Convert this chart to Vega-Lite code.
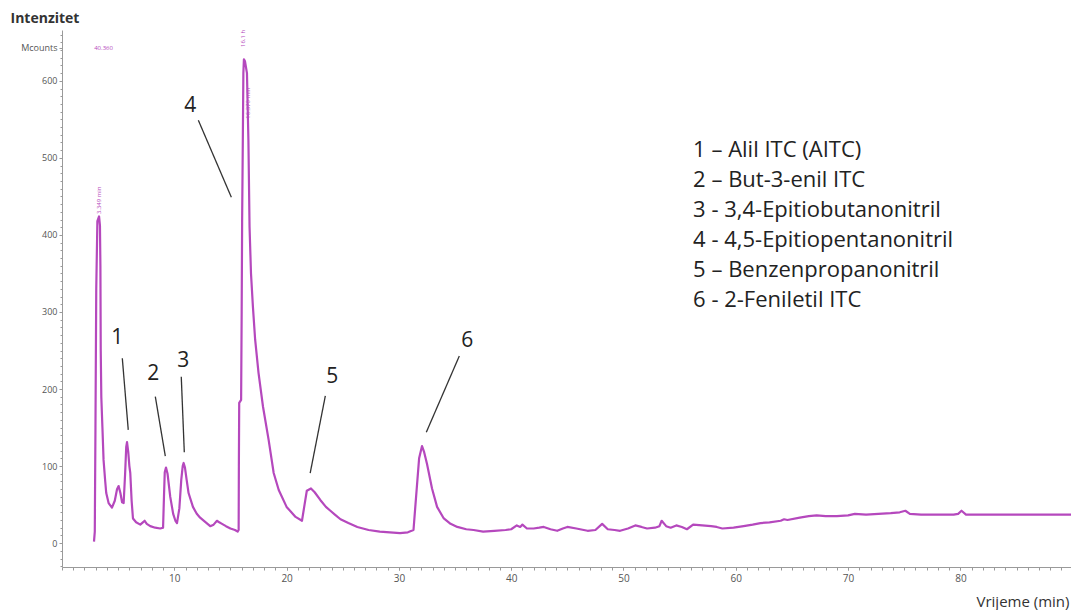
{
  "$schema": "https://vega.github.io/schema/vega-lite/v6.json",
  "width": 1009,
  "height": 537,
  "autosize": "none",
  "padding": {"left": 62, "top": 30, "right": 0, "bottom": 43},
  "background": "white",
  "config": {
    "view": {"stroke": null},
    "axis": {"grid": false, "domainColor": "#9a9a9a", "tickColor": "#9a9a9a", "labelColor": "#555555", "labelFont": "Open Sans", "labelFontSize": 9, "titleFont": "Open Sans"}
  },
  "datasets": {
    "trace": [
      {"t":2.85,"v":2},{"t":2.92,"v":15},{"t":2.98,"v":150},{"t":3.05,"v":330},{"t":3.15,"v":418},{"t":3.3,"v":424},{"t":3.38,"v":412},{"t":3.42,"v":360},{"t":3.45,"v":250},{"t":3.5,"v":190},{"t":3.6,"v":150},{"t":3.7,"v":108},{"t":3.85,"v":80},{"t":3.94,"v":65},{"t":4.15,"v":52},{"t":4.45,"v":46},{"t":4.7,"v":55},{"t":4.9,"v":70},{"t":5.04,"v":74},{"t":5.2,"v":65},{"t":5.35,"v":53},{"t":5.49,"v":52},{"t":5.62,"v":90},{"t":5.72,"v":125},{"t":5.79,"v":131},{"t":5.9,"v":118},{"t":6.0,"v":100},{"t":6.08,"v":91},{"t":6.2,"v":55},{"t":6.32,"v":32},{"t":6.6,"v":27},{"t":6.97,"v":24},{"t":7.2,"v":27},{"t":7.36,"v":29},{"t":7.55,"v":25},{"t":7.86,"v":22},{"t":8.3,"v":20},{"t":8.75,"v":19},{"t":9.0,"v":20},{"t":9.08,"v":60},{"t":9.15,"v":92},{"t":9.26,"v":98},{"t":9.4,"v":90},{"t":9.64,"v":60},{"t":9.9,"v":38},{"t":10.1,"v":29},{"t":10.24,"v":26},{"t":10.45,"v":45},{"t":10.62,"v":82},{"t":10.75,"v":100},{"t":10.83,"v":104},{"t":10.95,"v":98},{"t":11.1,"v":82},{"t":11.27,"v":65},{"t":11.66,"v":47},{"t":12.0,"v":38},{"t":12.3,"v":33},{"t":12.8,"v":27},{"t":13.2,"v":22},{"t":13.5,"v":24},{"t":13.8,"v":29},{"t":14.0,"v":27},{"t":14.25,"v":25},{"t":14.6,"v":22},{"t":15.0,"v":19},{"t":15.4,"v":17},{"t":15.64,"v":15},{"t":15.73,"v":17},{"t":15.75,"v":100},{"t":15.78,"v":182},{"t":15.95,"v":186},{"t":16.0,"v":300},{"t":16.04,"v":417},{"t":16.1,"v":520},{"t":16.15,"v":610},{"t":16.2,"v":628},{"t":16.3,"v":625},{"t":16.47,"v":610},{"t":16.6,"v":523},{"t":16.7,"v":411},{"t":16.83,"v":350},{"t":17.0,"v":307},{"t":17.2,"v":264},{"t":17.5,"v":221},{"t":17.9,"v":177},{"t":18.4,"v":134},{"t":18.85,"v":91},{"t":19.3,"v":69},{"t":20.0,"v":47},{"t":20.8,"v":34},{"t":21.37,"v":29},{"t":21.6,"v":50},{"t":21.8,"v":68},{"t":22.17,"v":71},{"t":22.5,"v":66},{"t":23.0,"v":56},{"t":23.5,"v":47},{"t":23.9,"v":42},{"t":24.3,"v":37},{"t":24.8,"v":31},{"t":25.5,"v":26},{"t":26.3,"v":21},{"t":27.3,"v":17},{"t":28.3,"v":15},{"t":29.2,"v":14},{"t":30.1,"v":13},{"t":30.8,"v":14},{"t":31.3,"v":17},{"t":31.45,"v":45},{"t":31.6,"v":73},{"t":31.8,"v":110},{"t":32.06,"v":126},{"t":32.25,"v":118},{"t":32.5,"v":103},{"t":32.95,"v":71},{"t":33.4,"v":47},{"t":34.0,"v":32},{"t":34.6,"v":25},{"t":35.2,"v":21},{"t":36.0,"v":18},{"t":36.65,"v":17},{"t":37.5,"v":15},{"t":38.5,"v":16},{"t":39.5,"v":17},{"t":40.0,"v":18},{"t":40.5,"v":23},{"t":40.8,"v":21},{"t":41.0,"v":24},{"t":41.4,"v":19},{"t":42.0,"v":19},{"t":42.5,"v":20},{"t":42.9,"v":21},{"t":43.5,"v":18},{"t":44.1,"v":16},{"t":44.6,"v":19},{"t":45.0,"v":21},{"t":45.8,"v":19},{"t":46.8,"v":16},{"t":47.5,"v":17},{"t":48.1,"v":25},{"t":48.6,"v":18},{"t":49.2,"v":17},{"t":49.7,"v":16},{"t":50.4,"v":19},{"t":51.05,"v":23},{"t":51.6,"v":21},{"t":52.1,"v":19},{"t":52.8,"v":20},{"t":53.2,"v":22},{"t":53.4,"v":29},{"t":53.8,"v":22},{"t":54.2,"v":20},{"t":54.7,"v":23},{"t":55.2,"v":21},{"t":55.65,"v":18},{"t":56.2,"v":24},{"t":57.0,"v":23},{"t":57.8,"v":22},{"t":58.3,"v":21},{"t":58.8,"v":19},{"t":59.8,"v":20},{"t":60.7,"v":22},{"t":61.5,"v":24},{"t":62.2,"v":26},{"t":63.0,"v":27},{"t":64.0,"v":29},{"t":64.3,"v":31},{"t":64.6,"v":30},{"t":65.7,"v":33},{"t":66.5,"v":35},{"t":67.2,"v":36},{"t":68.0,"v":35},{"t":69.0,"v":35},{"t":70.0,"v":36},{"t":70.6,"v":38},{"t":71.6,"v":37},{"t":72.7,"v":38},{"t":73.8,"v":39},{"t":74.6,"v":40},{"t":75.1,"v":42},{"t":75.5,"v":38},{"t":76.5,"v":37},{"t":77.6,"v":37},{"t":78.5,"v":37},{"t":79.4,"v":37},{"t":79.8,"v":38},{"t":80.1,"v":42},{"t":80.5,"v":37},{"t":81.5,"v":37},{"t":83.6,"v":37},{"t":86.0,"v":37},{"t":88.0,"v":37},{"t":89.85,"v":37}
    ],
    "leaders": [
      {"t":5.37,"v":240,"t2":5.9,"v2":147},
      {"t":8.31,"v":190,"t2":9.2,"v2":113},
      {"t":10.62,"v":216,"t2":10.89,"v2":118},
      {"t":12.14,"v":549,"t2":15.08,"v2":449},
      {"t":23.45,"v":191,"t2":22.1,"v2":91},
      {"t":35.38,"v":243,"t2":32.44,"v2":144}
    ],
    "nums": [
      {"t":4.92,"v":266,"label":"1"},
      {"t":8.13,"v":219,"label":"2"},
      {"t":10.8,"v":236,"label":"3"},
      {"t":11.43,"v":568,"label":"4"},
      {"t":24.07,"v":216,"label":"5"},
      {"t":36.09,"v":262,"label":"6"}
    ],
    "legend": [
      {"t":56.2,"v":510,"label":"1 – Alil ITC (AITC)"},
      {"t":56.2,"v":471,"label":"2 – But-3-enil ITC"},
      {"t":56.2,"v":432,"label":"3 - 3,4-Epitiobutanonitril"},
      {"t":56.2,"v":394,"label":"4 - 4,5-Epitiopentanonitril"},
      {"t":56.2,"v":355,"label":"5 – Benzenpropanonitril"},
      {"t":56.2,"v":316,"label":"6 - 2-Feniletil ITC"}
    ],
    "peaklabels": [
      {"t":3.33,"v":445,"label":"3.349 min","angle":270},
      {"t":16.6,"v":571,"label":"16.370 min","angle":270},
      {"t":16.15,"v":655,"label":"16.1 h","angle":270},
      {"t":3.7,"v":643,"label":"40.360","angle":0}
    ],
    "axisdummy": [{"t":0,"v":0}]
  },
  "resolve": {"axis": {"x": "independent", "y": "independent"}},
  "layer": [
    {
      "data": {"name": "axisdummy"},
      "mark": {"type": "point", "opacity": 0},
      "encoding": {
        "x": {"field": "t", "type": "quantitative", "scale": {"domain": [0, 89.85], "nice": false, "zero": false},
          "axis": {"orient": "bottom", "values": [0,1,2,3,4,5,6,7,8,9,10,11,12,13,14,15,16,17,18,19,20,21,22,23,24,25,26,27,28,29,30,31,32,33,34,35,36,37,38,39,40,41,42,43,44,45,46,47,48,49,50,51,52,53,54,55,56,57,58,59,60,61,62,63,64,65,66,67,68,69,70,71,72,73,74,75,76,77,78,79,80,81,82,83,84,85,86,87,88,89], "labels": false, "tickSize": 3, "title": null, "domain": false}},
        "y": {"field": "v", "type": "quantitative", "scale": {"domain": [-31, 666], "nice": false, "zero": false},
          "axis": {"orient": "left", "values": [-30,-20,-10,0,10,20,30,40,50,60,70,80,90,100,110,120,130,140,150,160,170,180,190,200,210,220,230,240,250,260,270,280,290,300,310,320,330,340,350,360,370,380,390,400,410,420,430,440,450,460,470,480,490,500,510,520,530,540,550,560,570,580,590,600,610,620,630,640,650,660], "labels": false, "tickSize": 2, "title": null, "domain": false}}
      }
    },
    {
      "data": {"name": "trace"},
      "mark": {"type": "line", "stroke": "#B548BD", "strokeWidth": 2.2, "strokeJoin": "round"},
      "encoding": {
        "x": {"field": "t", "type": "quantitative",
          "axis": {"orient": "bottom", "values": [10,20,30,40,50,60,70,80], "tickSize": 3, "labelPadding": 3, "labelFontSize": 10,
            "title": "Vrijeme (min)", "titleFontSize": 15, "titleFontWeight": "normal", "titleColor": "#333333", "titleAnchor": "end", "titleAlign": "right", "titleX": 1007, "titleY": 34, "titleBaseline": "middle"}},
        "y": {"field": "v", "type": "quantitative",
          "axis": {"orient": "left", "values": [0,100,200,300,400,500,600,643], "tickSize": 3, "labelPadding": 2,
            "labelExpr": "datum.value > 620 ? 'Mcounts' : datum.label",
            "title": "Intenzitet", "titleAngle": 0, "titleFontSize": 14, "titleFontWeight": "bold", "titleColor": "#333333", "titleAlign": "left", "titleBaseline": "middle", "titleX": -52, "titleY": -12}}
      }
    },
    {
      "data": {"name": "leaders"},
      "mark": {"type": "rule", "stroke": "#333333", "strokeWidth": 1.3},
      "encoding": {
        "x": {"field": "t", "type": "quantitative", "axis": null},
        "y": {"field": "v", "type": "quantitative", "axis": null},
        "x2": {"field": "t2"},
        "y2": {"field": "v2"}
      }
    },
    {
      "data": {"name": "nums"},
      "mark": {"type": "text", "font": "Open Sans", "fontSize": 21, "color": "#222222", "align": "center", "baseline": "middle"},
      "encoding": {
        "x": {"field": "t", "type": "quantitative", "axis": null},
        "y": {"field": "v", "type": "quantitative", "axis": null},
        "text": {"field": "label"}
      }
    },
    {
      "data": {"name": "legend"},
      "mark": {"type": "text", "font": "Open Sans", "fontSize": 22, "color": "#222222", "align": "left", "baseline": "middle"},
      "encoding": {
        "x": {"field": "t", "type": "quantitative", "axis": null},
        "y": {"field": "v", "type": "quantitative", "axis": null},
        "text": {"field": "label"}
      }
    },
    {
      "data": {"name": "peaklabels"},
      "mark": {"type": "text", "font": "Open Sans", "fontSize": 6, "color": "#B548BD", "align": "center", "baseline": "middle"},
      "encoding": {
        "x": {"field": "t", "type": "quantitative", "axis": null},
        "y": {"field": "v", "type": "quantitative", "axis": null},
        "angle": {"field": "angle", "type": "quantitative", "scale": null},
        "text": {"field": "label"}
      }
    }
  ]
}
